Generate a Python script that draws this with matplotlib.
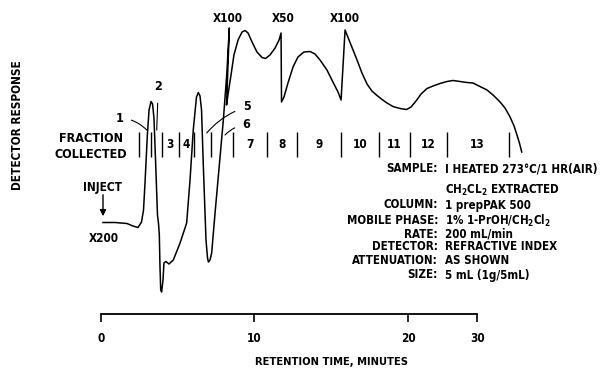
import numpy as np
import matplotlib.pyplot as plt

# retention time (min) and detector response (arbitrary units)
time_min = [0.13, 0.91, 1.69, 2.08, 2.41, 2.64, 2.77, 2.87, 3.02, 3.13, 3.26, 3.36,
            3.45, 3.56, 3.68, 3.75, 3.80, 3.84, 3.89, 3.95, 4.04, 4.10, 4.23, 4.43,
            4.71, 5.15, 5.58, 5.80, 6.01, 6.22, 6.34, 6.45, 6.55, 6.66, 6.84, 6.94,
            7.00, 7.10, 7.21, 7.43, 7.75, 7.97, 8.19, 8.36, 8.18, 8.27, 8.47, 8.66,
            8.93, 9.19, 9.38, 9.58, 9.84, 10.16, 10.49, 10.72, 11.01, 11.34, 11.60,
            11.73, 11.76, 11.92, 12.18, 12.51, 12.83, 13.22, 13.62, 13.94, 14.27,
            14.72, 15.11, 15.44, 15.64, 15.90, 16.16, 16.42, 16.68, 17.00, 17.33,
            17.65, 17.98, 18.31, 18.63, 19.02, 19.48, 19.90, 20.20, 20.55, 20.85,
            21.24, 21.63, 22.08, 22.54, 22.93, 23.39, 23.84, 24.23, 24.69, 25.15,
            25.54, 26.00, 26.32, 26.65, 26.91, 27.10, 27.26, 27.41]
response = [9.15, 9.15, 9.05, 8.8, 8.65, 9.2, 10.4, 13.2, 17.9, 20.4, 21.25, 21.0,
            19.6, 15.1, 9.9, 9.0, 7.9, 4.9, 2.4, 2.2, 3.4, 5.1, 5.25, 5.0,
            5.4, 7.1, 9.1, 13.4, 18.4, 21.7, 22.15, 21.8, 20.4, 15.1, 7.4, 5.6,
            5.2, 5.4, 6.1, 10.1, 15.6, 19.4, 23.9, 28.6, 20.9, 21.9, 23.9, 25.9,
            27.4, 28.2, 28.35, 28.1, 27.2, 26.2, 25.65, 25.55, 25.9, 26.6, 27.4,
            28.1, 21.2, 21.7, 23.1, 24.7, 25.7, 26.2, 26.25, 26.0, 25.4,
            24.4, 23.2, 22.2, 21.4, 28.4, 27.4, 26.4, 25.4, 24.1, 23.0,
            22.3, 21.85, 21.45, 21.1, 20.75, 20.55, 20.45, 20.7, 21.35, 22.0,
            22.55, 22.8, 23.05, 23.25, 23.35, 23.25, 23.15, 23.1, 22.75, 22.4,
            21.9, 21.2, 20.6, 19.7, 18.8, 17.9, 17.1, 16.2]

# fraction cut points (min) and fraction numbers
fraction_edges = [2.48, 3.26, 3.97, 5.05, 6.09, 7.17, 8.57, 10.79, 12.80,
                  15.64, 18.11, 20.13, 22.52, 26.55]
fraction_labels = ['1', '2', '3', '4', '5', '6', '7', '8', '9', '10', '11', '12', '13']
callout_fractions = ['1', '2', '5', '6']

# attenuation changes
atten_labels = ['X100', 'X50', 'X100']
atten_times = [8.27, 11.86, 15.90]

tick_pos = [0, 10, 20, 24.5]
tick_labels = ['0', '10', '20', '30']

conditions = [("SAMPLE:", "I HEATED 273°C/1 HR(AIR)"),
              ("", "CH$_2$CL$_2$ EXTRACTED"),
              ("COLUMN:", "1 prepPAK 500"),
              ("MOBILE PHASE:", "1% 1-PrOH/CH$_2$Cl$_2$"),
              ("RATE:", "200 mL/min"),
              ("DETECTOR:", "REFRACTIVE INDEX"),
              ("ATTENUATION:", "AS SHOWN"),
              ("SIZE:", "5 mL (1g/5mL)")]
condition_rows = [14.5, 12.4, 10.9, 9.33, 8.0, 6.7, 5.3, 3.9]

plt.rcParams['font.family'] = ['DejaVu Sans']
plt.rcParams['font.stretch'] = 'condensed'
plt.rcParams['font.weight'] = 'bold'
plt.rcParams['mathtext.default'] = 'bf'

fig = plt.figure(figsize=(6.08, 3.69), dpi=100)
ax = fig.add_axes([0, 0, 1, 1])
ax.set_xlim(-6.58, 33.03)
ax.set_ylim(-5.5, 31.4)

ax.plot(time_min, response, color='black', lw=1.1)

# axis
for side in ['top', 'right', 'left']:
    ax.spines[side].set_visible(False)
ax.spines['bottom'].set_position(('data', 0))
ax.spines['bottom'].set_bounds(0, 24.5)
ax.spines['bottom'].set_linewidth(1.3)
ax.set_yticks([])
ax.set_xticks(tick_pos, tick_labels)
ax.tick_params(axis='x', direction='out', length=6, width=1.2, pad=7, labelsize=8.5)
ax.text(15.0, -4.8, "RETENTION TIME, MINUTES", ha='center', va='center', fontsize=8)
ax.text(-5.47, 18.9, "DETECTOR RESPONSE", rotation=90, ha='center', va='center', fontsize=8.5)

# fraction collection marks
ax.vlines(fraction_edges, 15.7, 18.2, color='black', lw=1.0)
for i, lbl in enumerate(fraction_labels):
    if lbl in callout_fractions:
        continue
    mid = (fraction_edges[i] + fraction_edges[i + 1]) / 2
    ax.text(mid, 16.9, lbl, ha='center', va='center', fontsize=8.5)

ax.text(-0.65, 17.6, "FRACTION", ha='center', va='center', fontsize=9)
ax.text(-0.65, 15.9, "COLLECTED", ha='center', va='center', fontsize=9)

lead = dict(arrowstyle='-', color='black', lw=0.8)
ax.annotate('1', xy=(2.98, 18.4), xytext=(1.19, 19.6), fontsize=9, ha='center', va='center',
            arrowprops=dict(lead, connectionstyle='arc3,rad=-0.2', shrinkA=4, shrinkB=0))
ax.annotate('2', xy=(3.63, 18.4), xytext=(3.73, 22.7), fontsize=9, ha='center', va='center',
            arrowprops=dict(lead, shrinkA=5, shrinkB=0))
ax.annotate('5', xy=(6.89, 18.1), xytext=(9.49, 20.7), fontsize=9, ha='center', va='center',
            arrowprops=dict(lead, connectionstyle='arc3,rad=0.15', shrinkA=4, shrinkB=0))
ax.annotate('6', xy=(8.08, 17.9), xytext=(9.49, 18.9), fontsize=9, ha='center', va='center',
            arrowprops=dict(lead, connectionstyle='arc3,rad=0.2', shrinkA=4, shrinkB=0))

# injection
ax.text(0.13, 12.7, "INJECT", ha='center', va='center', fontsize=8.5)
ax.annotate('', xy=(0.13, 9.5), xytext=(0.13, 12.2),
            arrowprops=dict(arrowstyle='-|>', color='black', lw=1.0, mutation_scale=9))
ax.text(0.2, 7.6, "X200", ha='center', va='center', fontsize=8.5)

for lbl, t in zip(atten_labels, atten_times):
    ax.text(t, 29.5, lbl, ha='center', va='center', fontsize=8.5)

for (key, val), r in zip(conditions, condition_rows):
    if key:
        ax.text(21.95, r, key, ha='right', va='center', fontsize=8.3)
    ax.text(22.41, r, val, ha='left', va='center', fontsize=8.3)

fig.savefig('out.png', dpi=100)
